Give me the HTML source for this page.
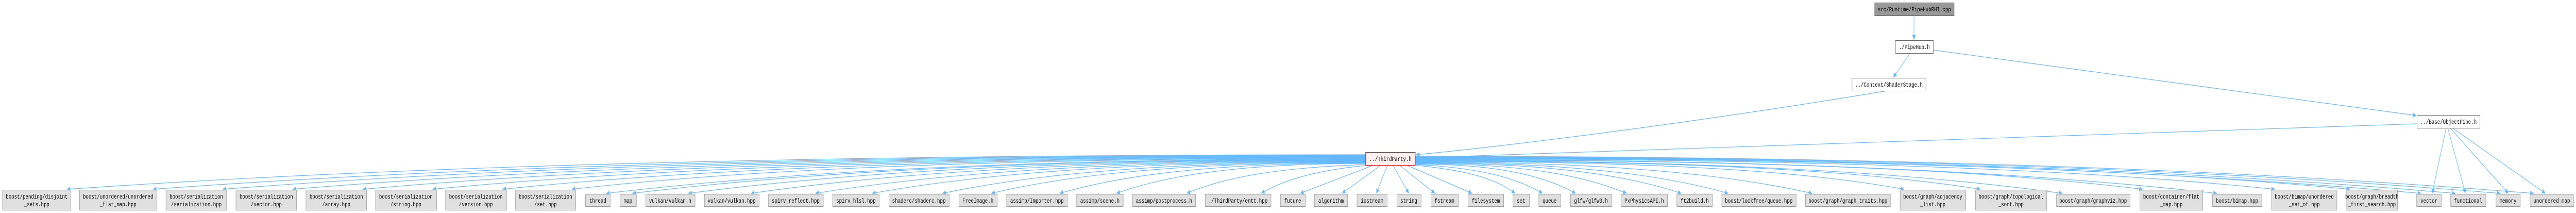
<!DOCTYPE html>
<html><head><meta charset="utf-8">
<style>
html,body{margin:0;padding:0;background:#fff;width:100vw;height:100vh;overflow:hidden;}
svg{display:block;position:absolute;left:0;top:0;width:100vw;height:100vh;}
text{font-family:"Liberation Mono",monospace;font-size:12px;fill:#000;}
.b{fill:#e0e0e0;stroke:#999;stroke-width:1;}
.e{fill:none;stroke:#63b8ff;stroke-width:1.2;}
</style></head>
<body>
<svg viewBox="0 0 6588 413" preserveAspectRatio="none" xmlns="http://www.w3.org/2000/svg">
<defs>
<marker id="a" viewBox="0 0 10 10" refX="10" refY="5" markerWidth="11" markerHeight="9" markerUnits="userSpaceOnUse" orient="auto">
<path d="M0,0 L10,5 L0,10 z" fill="#63b8ff"/>
</marker>
</defs>
<g class="e" marker-end="url(#a)">
<path d="M4895,30 L4895,77"/>
<path d="M4885,103 L4842,150"/>
<path d="M4944,97 L6180,224"/>
<path d="M4826,176 C4400,230 3900,280 3621,300"/>
<path d="M6181,240 L3621,306"/>
<path d="M3492,300 C1831,300 835,332 171,367"/>
<path d="M3492,301 C1941,301 1011,332 391,367"/>
<path d="M3492,302 C2030,302 1154,332 569,367"/>
<path d="M3492,303 C2120,303 1297,332 748,367"/>
<path d="M3492,304 C2209,304 1440,332 927,367"/>
<path d="M3492,305 C2299,305 1583,332 1106,367"/>
<path d="M3492,306 C2388,306 1726,332 1285,367"/>
<path d="M3492,307 C2477,307 1868,332 1462,367"/>
<path d="M3492,308 C2521,308 1938,340 1550,375"/>
<path d="M3492,309 C2554,309 1992,340 1617,375"/>
<path d="M3492,310 C2626,310 2106,340 1760,375"/>
<path d="M3492,311 C2706,311 2234,340 1920,375"/>
<path d="M3492,312 C2788,312 2366,340 2085,375"/>
<path d="M3492,313 C2861,313 2482,340 2230,375"/>
<path d="M3492,314 C2951,314 2626,340 2410,375"/>
<path d="M3492,315 C3013,315 2726,340 2535,375"/>
<path d="M3492,316 C3101,316 2866,340 2710,375"/>
<path d="M3492,317 C3173,317 2982,340 2855,375"/>
<path d="M3495,319 C3263,325 3126,345 3035,375"/>
<path d="M3505,320 C3362,330 3280,350 3225,375"/>
<path d="M3510,321 L3325,375"/>
<path d="M3530,321 L3432,375"/>
<path d="M3548,321 L3520,375"/>
<path d="M3563,321 L3603,375"/>
<path d="M3580,321 L3670,375"/>
<path d="M3600,321 L3765,375"/>
<path d="M3615,320 C3747,330 3824,345 3875,375"/>
<path d="M3619,319 C3782,325 3880,345 3945,375"/>
<path d="M3619,318 C3824,318 3948,340 4030,375"/>
<path d="M3619,317 C3889,317 4052,340 4160,375"/>
<path d="M3619,316 C3959,316 4164,340 4300,375"/>
<path d="M3619,315 C4019,315 4260,340 4420,375"/>
<path d="M3619,314 C4127,314 4432,340 4635,375"/>
<path d="M3619,313 C4244,313 4620,332 4870,367"/>
<path d="M3619,312 C4342,312 4776,332 5065,367"/>
<path d="M3619,311 C4447,311 4944,340 5275,375"/>
<path d="M3619,310 C4549,310 5108,332 5480,367"/>
<path d="M3619,309 C4644,309 5260,340 5670,375"/>
<path d="M3619,308 C4718,308 5378,332 5818,367"/>
<path d="M3619,307 C4814,307 5532,332 6010,367"/>
<path d="M3619,306 C4905,306 5677,340 6192,375"/>
<path d="M3619,305 C4949,305 5748,340 6280,375"/>
<path d="M3619,304 C5007,304 5840,340 6395,375"/>
<path d="M3619,303 C5049,303 5908,340 6480,375"/>
<path d="M6256,248 L6220,375"/>
<path d="M6260,248 L6305,375"/>
<path d="M6266,248 L6415,375"/>
<path d="M6272,248 L6510,375"/>
</g>

<rect x="4794.5" y="5.5" width="203" height="25" fill="#999" stroke="#666"/>
<text x="4896" y="22" text-anchor="middle">src/Runtime/PipeHubRHI.cpp</text>
<rect x="4847.5" y="78.5" width="97" height="25" fill="#fff" stroke="#666"/>
<text x="4896" y="95" text-anchor="middle">./PipeHub.h</text>
<rect x="4736.5" y="151.5" width="189" height="25" fill="#fff" stroke="#666"/>
<text x="4831" y="168" text-anchor="middle">../Context/ShaderStage.h</text>
<rect x="6181.5" y="223.5" width="161" height="25" fill="#fff" stroke="#666"/>
<text x="6262" y="240" text-anchor="middle">../Base/ObjectPipe.h</text>
<rect x="3492.5" y="295.5" width="127" height="25" fill="#fff0f0" stroke="#ff0000"/>
<text x="3556" y="312" text-anchor="middle">../ThirdParty.h</text>

<g>
<rect class="b" x="6.5" y="368.5" width="175" height="39"/><text x="94" y="385" text-anchor="middle">boost/pending/disjoint</text><text x="94" y="400" text-anchor="middle">_sets.hpp</text>
<rect class="b" x="203.5" y="368.5" width="198" height="39"/><text x="302" y="385" text-anchor="middle">boost/unordered/unordered</text><text x="302" y="400" text-anchor="middle">_flat_map.hpp</text>
<rect class="b" x="424.5" y="368.5" width="155" height="39"/><text x="502" y="385" text-anchor="middle">boost/serialization</text><text x="502" y="400" text-anchor="middle">/serialization.hpp</text>
<rect class="b" x="603.5" y="368.5" width="155" height="39"/><text x="681" y="385" text-anchor="middle">boost/serialization</text><text x="681" y="400" text-anchor="middle">/vector.hpp</text>
<rect class="b" x="782.5" y="368.5" width="155" height="39"/><text x="860" y="385" text-anchor="middle">boost/serialization</text><text x="860" y="400" text-anchor="middle">/array.hpp</text>
<rect class="b" x="960.5" y="368.5" width="156" height="39"/><text x="1038" y="385" text-anchor="middle">boost/serialization</text><text x="1038" y="400" text-anchor="middle">/string.hpp</text>
<rect class="b" x="1139.5" y="368.5" width="156" height="39"/><text x="1217" y="385" text-anchor="middle">boost/serialization</text><text x="1217" y="400" text-anchor="middle">/version.hpp</text>
<rect class="b" x="1318.5" y="368.5" width="154" height="39"/><text x="1395" y="385" text-anchor="middle">boost/serialization</text><text x="1395" y="400" text-anchor="middle">/set.hpp</text>
<rect class="b" x="4859.5" y="368.5" width="168" height="39"/><text x="4943" y="385" text-anchor="middle">boost/graph/adjacency</text><text x="4943" y="400" text-anchor="middle">_list.hpp</text>
<rect class="b" x="5052.5" y="368.5" width="182" height="39"/><text x="5143" y="385" text-anchor="middle">boost/graph/topological</text><text x="5143" y="400" text-anchor="middle">_sort.hpp</text>
<rect class="b" x="5472.5" y="368.5" width="161" height="39"/><text x="5553" y="385" text-anchor="middle">boost/container/flat</text><text x="5553" y="400" text-anchor="middle">_map.hpp</text>
<rect class="b" x="5809.5" y="368.5" width="167" height="39"/><text x="5893" y="385" text-anchor="middle">boost/bimap/unordered</text><text x="5893" y="400" text-anchor="middle">_set_of.hpp</text>
<rect class="b" x="6001.5" y="368.5" width="130" height="39"/><text x="6066" y="385" text-anchor="middle">boost/graph/breadth</text><text x="6066" y="400" text-anchor="middle">_first_search.hpp</text>
</g>

<g>
<rect class="b" x="1497.5" y="376.5" width="63" height="24"/><text x="1529" y="393" text-anchor="middle">thread</text>
<rect class="b" x="1585.5" y="376.5" width="42" height="24"/><text x="1606" y="393" text-anchor="middle">map</text>
<rect class="b" x="1651.5" y="376.5" width="126" height="24"/><text x="1714" y="393" text-anchor="middle">vulkan/vulkan.h</text>
<rect class="b" x="1801.5" y="376.5" width="140" height="24"/><text x="1871" y="393" text-anchor="middle">vulkan/vulkan.hpp</text>
<rect class="b" x="1965.5" y="376.5" width="140" height="24"/><text x="2035" y="393" text-anchor="middle">spirv_reflect.hpp</text>
<rect class="b" x="2129.5" y="376.5" width="119" height="24"/><text x="2189" y="393" text-anchor="middle">spirv_hlsl.hpp</text>
<rect class="b" x="2273.5" y="376.5" width="154" height="24"/><text x="2350" y="393" text-anchor="middle">shaderc/shaderc.hpp</text>
<rect class="b" x="2452.5" y="376.5" width="98" height="24"/><text x="2501" y="393" text-anchor="middle">FreeImage.h</text>
<rect class="b" x="2574.5" y="376.5" width="155" height="24"/><text x="2652" y="393" text-anchor="middle">assimp/Importer.hpp</text>
<rect class="b" x="2753.5" y="376.5" width="119" height="24"/><text x="2813" y="393" text-anchor="middle">assimp/scene.h</text>
<rect class="b" x="2896.5" y="376.5" width="161" height="24"/><text x="2977" y="393" text-anchor="middle">assimp/postprocess.h</text>
<rect class="b" x="3082.5" y="376.5" width="168" height="24"/><text x="3166" y="393" text-anchor="middle">./ThirdParty/entt.hpp</text>
<rect class="b" x="3274.5" y="376.5" width="64" height="24"/><text x="3306" y="393" text-anchor="middle">future</text>
<rect class="b" x="3361.5" y="376.5" width="85" height="24"/><text x="3404" y="393" text-anchor="middle">algorithm</text>
<rect class="b" x="3470.5" y="376.5" width="77" height="24"/><text x="3509" y="393" text-anchor="middle">iostream</text>
<rect class="b" x="3572.5" y="376.5" width="62" height="24"/><text x="3603" y="393" text-anchor="middle">string</text>
<rect class="b" x="3659.5" y="376.5" width="70" height="24"/><text x="3694" y="393" text-anchor="middle">fstream</text>
<rect class="b" x="3754.5" y="376.5" width="91" height="24"/><text x="3800" y="393" text-anchor="middle">filesystem</text>
<rect class="b" x="3869.5" y="376.5" width="42" height="24"/><text x="3890" y="393" text-anchor="middle">set</text>
<rect class="b" x="3935.5" y="376.5" width="56" height="24"/><text x="3963" y="393" text-anchor="middle">queue</text>
<rect class="b" x="4016.5" y="376.5" width="105" height="24"/><text x="4069" y="393" text-anchor="middle">glfw/glfw3.h</text>
<rect class="b" x="4145.5" y="376.5" width="119" height="24"/><text x="4205" y="393" text-anchor="middle">PxPhysicsAPI.h</text>
<rect class="b" x="4288.5" y="376.5" width="91" height="24"/><text x="4334" y="393" text-anchor="middle">ft2build.h</text>
<rect class="b" x="4403.5" y="376.5" width="190" height="24"/><text x="4498" y="393" text-anchor="middle">boost/lockfree/queue.hpp</text>
<rect class="b" x="4617.5" y="376.5" width="217" height="24"/><text x="4726" y="393" text-anchor="middle">boost/graph/graph_traits.hpp</text>
<rect class="b" x="5259.5" y="376.5" width="188" height="24"/><text x="5353" y="393" text-anchor="middle">boost/graph/graphviz.hpp</text>
<rect class="b" x="5658.5" y="376.5" width="126" height="24"/><text x="5721" y="393" text-anchor="middle">boost/bimap.hpp</text>
<rect class="b" x="6180.5" y="376.5" width="63" height="24"/><text x="6212" y="393" text-anchor="middle">vector</text>
<rect class="b" x="6267.5" y="376.5" width="90" height="24"/><text x="6312" y="393" text-anchor="middle">functional</text>
<rect class="b" x="6383.5" y="376.5" width="62" height="24"/><text x="6414" y="393" text-anchor="middle">memory</text>
<rect class="b" x="6470.5" y="376.5" width="111" height="24"/><text x="6526" y="393" text-anchor="middle">unordered_map</text>
</g>
</svg>
</body></html>
